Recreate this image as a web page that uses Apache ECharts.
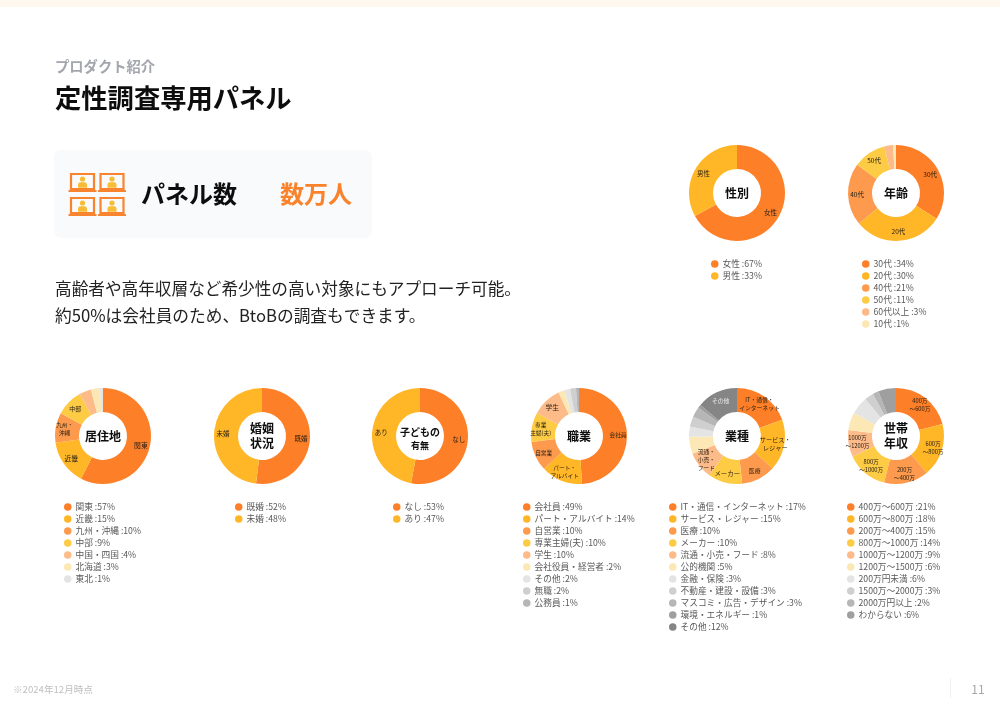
<!DOCTYPE html>
<html lang="ja"><head><meta charset="utf-8">
<style>html,body{margin:0;padding:0;background:#fff}#c{width:1000px;height:705px}</style>
<script src="https://cdn.jsdelivr.net/npm/echarts@6/dist/echarts.min.js"></script>
</head><body><div id="c"></div>
<script>
const FONT = '"Noto Sans CJK JP","Noto Sans",sans-serif';
const palette = ['#fd7f28','#ffb727','#fd9a4e','#fecb45','#fdbb8a','#fce8b4','#e4e4e4','#cfcfcf','#b6b6b6','#9f9f9f','#858585','#8a8a8a'];

const genderNames = ['女性','男性'];
const genderValues = [67,33];
const genderLabels = ['女性','男性'];

const ageNames = ['30代','20代','40代','50代','60代以上','10代'];
const ageValues = [34,30,21,11,3,1];
const ageLabels = ['30代','20代','40代','50代','',''];

const areaNames = ['関東','近畿','九州・沖縄','中部','中国・四国','北海道','東北'];
const areaValues = [57,15,10,9,4,3,1];
const areaLabels = ['関東','近畿','九州・\n沖縄','中部','','',''];

const marriageNames = ['既婚','未婚'];
const marriageValues = [52,48];
const marriageLabels = ['既婚','未婚'];

const childNames = ['なし','あり'];
const childValues = [53,47];
const childLabels = ['なし','あり'];

const jobNames = ['会社員','パート・アルバイト','自営業','専業主婦(夫)','学生','会社役員・経営者','その他','無職','公務員'];
const jobValues = [49,14,10,10,10,2,2,2,1];
const jobLabels = ['会社員','パート・\nアルバイト','自営業','専業\n主婦(夫)','学生','','','',''];

const industryNames = ['IT・通信・インターネット','サービス・レジャー','医療','メーカー','流通・小売・フード','公的機関','金融・保険','不動産・建設・設備','マスコミ・広告・デザイン','環境・エネルギー','その他'];
const industryValues = [17,15,10,10,8,5,3,3,3,1,12];
const industryLabels = ['IT・通信・\nインターネット','サービス・\nレジャー','医療','メーカー','流通・\n小売・\nフード','','','','','','その他'];

const incomeNames = ['400万～600万','600万～800万','200万～400万','800万～1000万','1000万～1200万','1200万～1500万','200万円未満','1500万～2000万','2000万円以上','わからない'];
const incomeValues = [21,18,15,14,9,6,6,3,2,6];
const incomeLabels = ['400万\n～600万','600万\n～800万','200万\n～400万','800万\n～1000万','1000万\n～1200万','','','','',''];

const labelSizeOverrides = {'メーカー':6.4,'学生':6.8,'関東':6.8,'近畿':6.8,'サービス・レジャー':6.2,'中部':6};

const charts = [
  {title:'性別',    names:genderNames,  values:genderValues,  labels:genderLabels,  cx:737, cy:193, lx:711, ly:258, size:12, labelSize:6.5},
  {title:'年齢',    names:ageNames,     values:ageValues,     labels:ageLabels,     cx:896, cy:193, lx:862, ly:258, size:12, labelSize:6.5},
  {title:'居住地',  names:areaNames,    values:areaValues,    labels:areaLabels,    cx:103, cy:436, lx:64,  ly:501, size:12, labelSize:5.6},
  {title:'婚姻\n状況', names:marriageNames, values:marriageValues, labels:marriageLabels, cx:262, cy:436, lx:235, ly:501, size:12, labelSize:6.5},
  {title:'子どもの', sub:'有無', names:childNames, values:childValues, labels:childLabels, cx:420, cy:436, lx:393, ly:501, size:10, labelSize:6.5},
  {title:'職業',    names:jobNames,     values:jobValues,     labels:jobLabels,     cx:579, cy:436, lx:523, ly:501, size:12, labelSize:5.7},
  {title:'業種',    names:industryNames,values:industryValues,labels:industryLabels,cx:737, cy:436, lx:669, ly:501, size:12, labelSize:5.8},
  {title:'世帯\n年収', names:incomeNames, values:incomeValues, labels:incomeLabels, cx:896, cy:436, lx:847, ly:501, size:12, labelSize:5.7}
];

const series = charts.map(c => ({
  type:'pie', name:c.title, silent:true, animation:false,
  center:[c.cx,c.cy], radius:[24,48], startAngle:90, clockwise:true, avoidLabelOverlap:false,
  labelLine:{show:false}, emphasis:{disabled:true}, labelLayout:{hideOverlap:false},
  data:c.names.map((n,i)=>{
    const isDark = n==='その他' && c.names.length>9;
    return {
      name:n, value:c.values[i],
      itemStyle:{color: (isDark ? palette[10] : palette[i])},
      label:{show:!!c.labels[i], position:'inside', formatter:c.labels[i]||'', fontFamily:FONT,
             fontSize:labelSizeOverrides[n]||c.labelSize, lineHeight:8, color:isDark?'#eeeeee':'#2a2114'}
    };
  })
}));

const legend = charts.map(c => ({
  show:true, orient:'vertical', left:c.lx, top:c.ly, padding:0, itemGap:0,
  itemWidth:7.5, itemHeight:7.5, icon:'circle', selectedMode:false,
  textStyle:{fontFamily:FONT, fontSize:8.7, lineHeight:12, color:'#595959', padding:[0,0,0,-1]},
  data:c.names.map((n,i)=>({name:n, itemStyle:{color:(n==='その他'&&c.names.length>9)?palette[10]:palette[i]}})),
  formatter:n=>n+' :'+c.values[c.names.indexOf(n)]+'%'
}));

const g = [];
g.push({type:'rect',shape:{x:0,y:0,width:1000,height:7},style:{fill:'#fff8ef'}});
const txt=(x,y,t,size,weight,fill,align)=>g.push({type:'text',x,y,style:{text:t,font:`${weight} ${size}px ${FONT}`,fill,textAlign:align||'left',textVerticalAlign:'middle',lineHeight:size*1.25}});
txt(55,67,'プロダクト紹介',14.3,'bold','#a3a6ad');
txt(55,98,'定性調査専用パネル',26.3,'bold','#0d0d0d');
g.push({type:'rect',shape:{x:54,y:150,width:318,height:88,r:7},style:{fill:'#f9fafb'}});
[[71,174],[100.5,174],[71,198],[100.5,198]].forEach(([x,y])=>{
  g.push({type:'rect',shape:{x:x,y:y,width:23,height:15},style:{fill:'none',stroke:'#f98430',lineWidth:2.2}});
  g.push({type:'rect',shape:{x:x-2.5,y:y+16,width:28,height:2},style:{fill:'#f98430'}});
  g.push({type:'circle',shape:{cx:x+11.5,cy:y+5,r:2.6},style:{fill:'#f6bd35'}});
  g.push({type:'rect',shape:{x:x+7,y:y+8.2,width:9,height:5.5,r:[2.5,2.5,0,0]},style:{fill:'#f6bd35'}});
});
txt(141,194,'パネル数',24,'bold','#0d0d0d');
txt(280,194,'数万人',24,'bold','#f9822b');
txt(55,289,'高齢者や高年収層など希少性の高い対象にもアプローチ可能。',16.65,'normal','#222');
txt(55,316,'約50%は会社員のため、BtoBの調査もできます。',16.7,'normal','#222');
txt(13,689,'※2024年12月時点',9.6,'normal','#c0c0c0');
g.push({type:'rect',shape:{x:950,y:678,width:1,height:20},style:{fill:'#f0f0f0'}});
txt(978,689,'11',12,'normal','#a8a8a8','center');
charts.forEach(c=>{
  if(c.sub){
    txt(c.cx,c.cy-4,c.title,c.size,'bold','#0d0d0d','center');
    txt(c.cx,c.cy+10,c.sub,9,'bold','#0d0d0d','center');
  } else {
    txt(c.cx,c.cy,c.title,c.size,'bold','#0d0d0d','center');
  }
});

const chart = echarts.init(document.getElementById('c'),null,{renderer:'canvas'});
chart.setOption({animation:false, backgroundColor:'#ffffff', tooltip:{show:false}, legend, series, graphic:{elements:g}});
</script></body></html>
